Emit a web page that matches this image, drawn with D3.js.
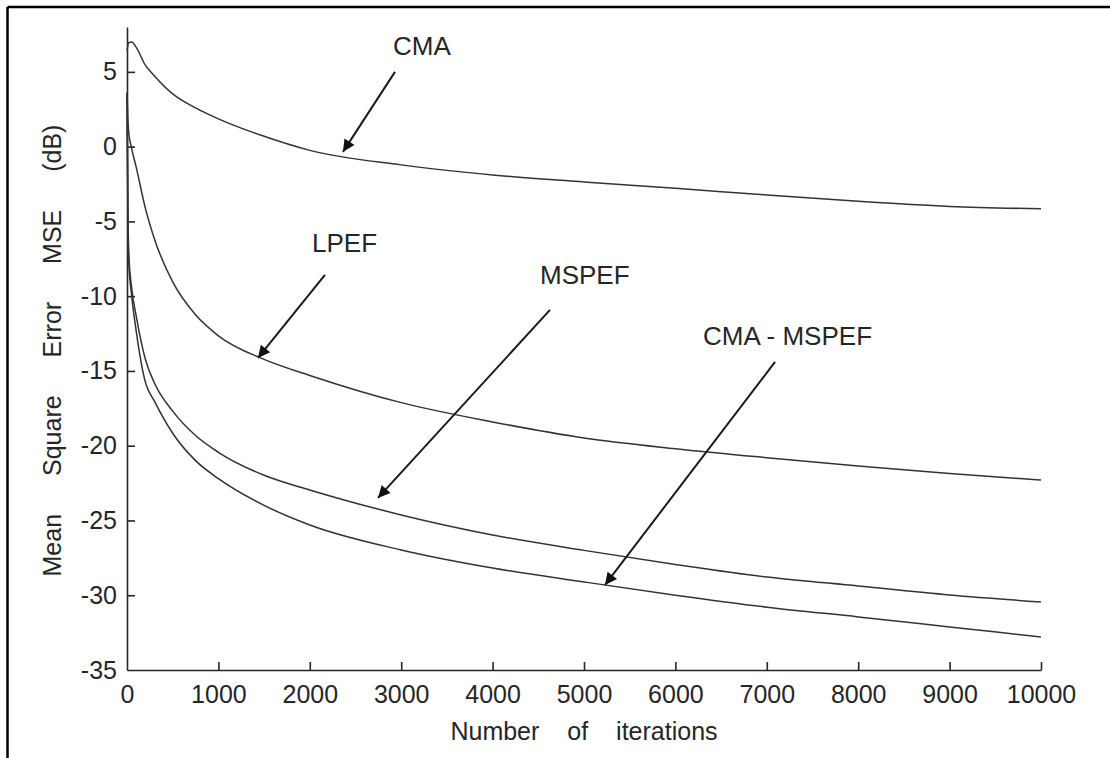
<!DOCTYPE html>
<html>
<head>
<meta charset="utf-8">
<script src="https://cdn.jsdelivr.net/npm/d3@7"></script>
<style>
  html, body { margin: 0; padding: 0; background: #fff; }
  svg { display: block; font-family: "Liberation Sans", Arial, sans-serif; }
</style>
</head>
<body>
<svg id="chart" width="1110" height="758"></svg>
<script>
// Iteration counts at which the MSE curves are sampled
const iterations = [0, 10, 20, 50, 100, 200, 300, 500, 750, 1000, 1500, 2000, 3000, 4000, 5000, 6000, 7000, 8000, 9000, 10000];

// Mean square error (dB) for each algorithm
const cmaMSE      = [6.4, 6.8, 6.95, 7.0, 6.65, 5.45, 4.73, 3.53, 2.59, 1.86, 0.69, -0.25, -1.22, -1.89, -2.36, -2.79, -3.23, -3.66, -4.0, -4.16];
const lpefMSE     = [3.6, 1.8, 0.9, -0.1, -1.35, -4.1, -6.17, -9.05, -11.25, -12.65, -14.23, -15.3, -17.12, -18.41, -19.48, -20.2, -20.8, -21.35, -21.86, -22.3];
const mspefMSE    = [3.6, -4.0, -7.2, -9.4, -11.3, -14.2, -15.81, -17.69, -19.32, -20.44, -21.98, -22.96, -24.63, -25.97, -27.0, -27.94, -28.78, -29.38, -29.98, -30.45];
const cmaMspefMSE = [3.6, -5.0, -7.8, -9.9, -12.3, -15.73, -17.02, -19.17, -21.0, -22.2, -23.99, -25.3, -26.97, -28.18, -29.11, -30.0, -30.8, -31.45, -32.12, -32.79];

// Axis ticks
const xTicks = [0, 1000, 2000, 3000, 4000, 5000, 6000, 7000, 8000, 9000, 10000];
const yTicks = [5, 0, -5, -10, -15, -20, -25, -30, -35];

// Curve labels with their arrows, in data units (iterations, dB)
const labelNames  = ["CMA", "LPEF", "MSPEF", "CMA - MSPEF"];
const labelAnchor = [[2910, 6.14], [2024, -7.04], [4519, -9.18], [6302, -13.26]];
const arrowFrom   = [[2932, 5.0], [2166, -8.58], [4628, -10.92], [7090, -14.40]];
const arrowTo     = [[2363, -0.35], [1433, -14.13], [2746, -23.49], [5230, -29.31]];

const svg = d3.select("#chart");
const ink = "#262626";

const x = d3.scaleLinear().domain([0, 10000]).range([127, 1041]);
const y = d3.scaleLinear().domain([-35, 8]).range([670, 27]);

// Figure frame (top and left edges)
svg.append("line").attr("x1", 7.5).attr("x2", 1110).attr("y1", 7).attr("y2", 7)
  .attr("stroke", "#000").attr("stroke-width", 2.5);
svg.append("line").attr("x1", 7.5).attr("x2", 7.5).attr("y1", 7).attr("y2", 758)
  .attr("stroke", "#000").attr("stroke-width", 2.5);

// Axes with inward ticks
const xAxis = d3.axisBottom(x).tickValues(xTicks).tickFormat(d3.format("d"))
  .tickSizeInner(-8).tickSizeOuter(0).tickPadding(15);
const yAxis = d3.axisLeft(y).tickValues(yTicks).tickFormat(d => d3.format("d")(d).replace("−", "-"))
  .tickSizeInner(-8).tickSizeOuter(0).tickPadding(10);

const gx = svg.append("g").attr("transform", `translate(0,${y(-35)})`).call(xAxis);
const gy = svg.append("g").attr("transform", `translate(${x(0)},0)`).call(yAxis);

[gx, gy].forEach(g => {
  g.select(".domain").attr("stroke", ink).attr("stroke-width", 1.6);
  g.selectAll(".tick line").attr("stroke", ink).attr("stroke-width", 1.6);
  g.selectAll(".tick text").attr("fill", ink).attr("font-size", 25)
    .attr("font-family", "Liberation Sans, Arial, sans-serif");
});
// the -35 tick coincides with the x axis; 0 tick with y axis
gx.selectAll(".tick").filter(d => d === 0).select("line").remove();
gy.selectAll(".tick").filter(d => d === -35).select("line").remove();

// Axis titles
svg.append("text")
  .attr("x", (x(0) + x(10000)) / 2).attr("y", 740)
  .attr("text-anchor", "middle").attr("font-size", 25).attr("fill", ink)
  .style("word-spacing", "21px")
  .text("Number of iterations");

svg.append("text")
  .attr("transform", `translate(61,${(y(8) + y(-35)) / 2 + 2}) rotate(-90)`)
  .attr("text-anchor", "middle").attr("font-size", 25).attr("fill", ink)
  .style("word-spacing", "31px")
  .text("Mean Square Error MSE (dB)");

// MSE curves
const seriesList = [cmaMSE, lpefMSE, mspefMSE, cmaMspefMSE];
const line = d3.line()
  .x((d, i) => x(iterations[i]))
  .y(d => y(d))
  .curve(d3.curveMonotoneX);

svg.append("g").selectAll("path").data(seriesList).join("path")
  .attr("d", d => line(d))
  .attr("fill", "none")
  .attr("stroke", "#333")
  .attr("stroke-width", 1.5)
  .attr("stroke-linejoin", "round");

// Arrow heads
svg.append("defs").append("marker")
  .attr("id", "head").attr("viewBox", "0 0 10 10")
  .attr("refX", 10).attr("refY", 5)
  .attr("markerUnits", "userSpaceOnUse")
  .attr("markerWidth", 16).attr("markerHeight", 12)
  .attr("orient", "auto")
  .append("path").attr("d", "M0,0 L10,5 L0,10 Z").attr("fill", "#111");

const ann = svg.append("g");
labelNames.forEach((name, k) => {
  ann.append("line")
    .attr("x1", x(arrowFrom[k][0])).attr("y1", y(arrowFrom[k][1]))
    .attr("x2", x(arrowTo[k][0])).attr("y2", y(arrowTo[k][1]))
    .attr("stroke", "#1a1a1a").attr("stroke-width", 2)
    .attr("marker-end", "url(#head)");
  ann.append("text")
    .attr("x", x(labelAnchor[k][0])).attr("y", y(labelAnchor[k][1]))
    .attr("font-size", 26).attr("fill", ink)
    .style("white-space", "pre")
    .text(name);
});
</script>
</body>
</html>
